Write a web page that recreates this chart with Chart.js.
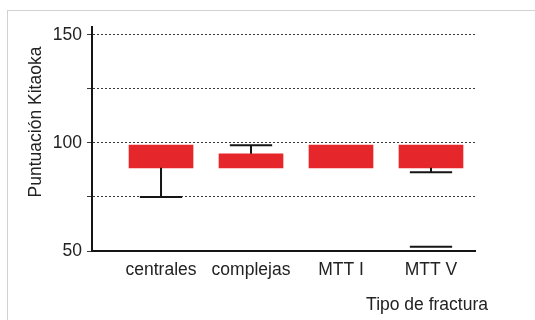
<!DOCTYPE html>
<html>
<head>
<meta charset="utf-8">
<script src="https://cdn.jsdelivr.net/npm/chart.js@4/dist/chart.umd.min.js"></script>
<style>
  html, body { margin: 0; padding: 0; background: #fff; }
  #wrap { position: relative; width: 535px; height: 320px; overflow: hidden; }
  #wrap canvas { position: absolute; left: 0; top: 0; }
  #frame { position: absolute; left: 7px; top: 10px; right: -2px; bottom: -2px;
           border-top: 1px solid #d2d2d2; border-left: 1px solid #d2d2d2; pointer-events: none; }
</style>
</head>
<body>
<div id="wrap">
  <canvas id="chart" width="535" height="320"></canvas>
  <div id="frame"></div>
</div>
<script>
// Kitaoka score by fracture type
const categories  = ['centrales', 'complejas', 'MTT I', 'MTT V'];
const boxLow      = [88.5, 88.5, 88.5, 88.5];   // lower quartile
const boxHigh     = [99, 95, 99, 99];           // upper quartile
const whiskerLow  = [75, null, null, 86.5];
const whiskerHigh = [null, 99, null, null];
const outliers    = [null, null, null, 52];
const yTicks      = [50, 75, 100, 125, 150];
const yTickLabels = ['50', '', '100', '', '150'];
const yTitle = 'Puntuación Kitaoka';
const xTitle = 'Tipo de fractura';

const FONT = "'Liberation Sans', Arial, sans-serif";
const TEXT = '#222';
const CAP = 0.235;   // half width of whisker caps, in x units

// whisker stems and caps as gapped line segments
const stems = [], caps = [], outs = [];
categories.forEach((c, i) => {
  const x = i + 1;
  if (whiskerLow[i] != null) {
    stems.push({x, y: boxLow[i]}, {x, y: whiskerLow[i]}, {x, y: null});
    caps.push({x: x - CAP, y: whiskerLow[i]}, {x: x + CAP, y: whiskerLow[i]}, {x, y: null});
  }
  if (whiskerHigh[i] != null) {
    stems.push({x, y: boxHigh[i]}, {x, y: whiskerHigh[i]}, {x, y: null});
    caps.push({x: x - CAP, y: whiskerHigh[i]}, {x: x + CAP, y: whiskerHigh[i]}, {x, y: null});
  }
  if (outliers[i] != null) {
    outs.push({x: x - CAP, y: outliers[i]}, {x: x + CAP, y: outliers[i]}, {x, y: null});
  }
});

const lineStyle = {
  type: 'line', borderColor: '#151515', borderWidth: 2, pointRadius: 0,
  tension: 0, spanGaps: false, fill: false
};

const axisTitles = {
  id: 'axisTitles',
  afterDraw(chart) {
    const ctx = chart.ctx;
    ctx.save();
    ctx.fillStyle = TEXT;
    ctx.font = `17.5px ${FONT}`;
    ctx.textBaseline = 'middle';
    ctx.textAlign = 'right';
    ctx.fillText(xTitle, 488, 305);
    ctx.translate(36, 122);
    ctx.rotate(-Math.PI / 2);
    ctx.textAlign = 'center';
    ctx.fillText(yTitle, 0, 0);
    ctx.restore();
  }
};

new Chart(document.getElementById('chart'), {
  type: 'bar',
  data: {
    datasets: [
      Object.assign({ label: 'stems', data: stems }, lineStyle),
      Object.assign({ label: 'caps', data: caps }, lineStyle),
      Object.assign({ label: 'outliers', data: outs }, lineStyle),
      {
        label: 'box',
        data: categories.map((c, i) => ({ x: i + 1, y: [boxLow[i], boxHigh[i]] })),
        backgroundColor: '#e5262a',
        borderWidth: 0,
        barThickness: 64
      }
    ]
  },
  options: {
    responsive: false,
    animation: false,
    layout: { padding: { top: 27, right: 60, left: 0, bottom: 0 } },
    plugins: { legend: { display: false }, tooltip: { enabled: false } },
    scales: {
      x: {
        type: 'linear',
        min: 0.233,
        max: 4.489,
        offset: false,
        afterFit(s) { s.height = 69; },
        afterBuildTicks(s) { s.ticks = categories.map((c, i) => ({ value: i + 1 })); },
        grid: { display: false, drawTicks: false, offset: false },
        border: { display: true, color: '#151515', width: 2 },
        ticks: {
          padding: 9,
          color: TEXT,
          font: { family: FONT, size: 17.5 },
          callback: (v) => categories[Math.round(v) - 1]
        }
      },
      y: {
        min: 50,
        max: 153.7,
        afterFit(s) { s.width = 92; },
        afterBuildTicks(s) { s.ticks = yTicks.map(v => ({ value: v })); },
        grid: {
          color: (ctx) => (ctx.tick && ctx.tick.value === 50 ? 'rgba(0,0,0,0)' : '#3a3a3a'),
          tickColor: '#3a3a3a',
          lineWidth: 1,
          tickLength: 5
        },
        border: { display: true, color: '#151515', width: 2, dash: [2, 2] },
        ticks: {
          padding: 5,
          color: TEXT,
          font: { family: FONT, size: 17.5 },
          callback: (v) => yTickLabels[yTicks.indexOf(v)]
        }
      }
    }
  },
  plugins: [axisTitles]
});
</script>
</body>
</html>
